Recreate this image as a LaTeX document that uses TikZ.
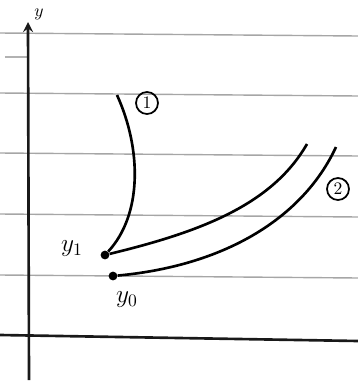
\documentclass[tikz,border=0pt]{standalone}
\usepackage{tikz}
\usetikzlibrary{arrows, positioning}

\begin{document}
\begin{tikzpicture}[
    x=0.02cm, y=-0.02cm,
    rule/.style={draw=black!35, line width=0.8pt},
    axis/.style={draw=black!90, line width=1.5pt},
    branch/.style={draw=black, line width=1.5pt},
    dot/.style={circle, fill=black, inner sep=0pt, minimum size=5pt},
    tag/.style={circle, draw=black, line width=1pt, inner sep=0pt, minimum size=0.44cm, font=\normalsize},
    lbl/.style={font=\Large}
]
\useasboundingbox (0,0) rectangle (358,383);
% ruled paper
\foreach \yy in {33,93,153,214,275}
    \draw[rule] (0,\yy) -- (358,\yy+3);
\draw[draw=black!30, line width=1.2pt] (5,57) -- (28,57);

% axes
\coordinate (xl) at (0,335);
\coordinate (xr) at (358,341);
\coordinate (yb) at (29,380);
\coordinate (yt) at (28,22);
\draw[axis] (xl) -- (xr);
\draw[axis, ->, >=stealth] (yb) -- (yt);
\node[font=\normalsize] (ylab) at (39,14) {$y$};

% points
\node[dot] (y1) at (105,255) {};
\node[dot] (y0) at (113,276) {};
\node[lbl] (y1lab) at (72,249) {$y_1$};
\node[lbl] (y0lab) at (127,300) {$y_0$};

% curve ends
\coordinate (c1) at (117,95);
\coordinate (c2a) at (307,144);
\coordinate (c2b) at (336,147);

\draw[branch] (c1) .. controls (142,150) and (142,215) .. (y1);
\draw[branch] (y1) .. controls (200,232) and (272,205) .. (c2a);
\draw[branch] (y0) .. controls (222,266) and (302,220) .. (c2b);

% curve tags
\node[tag] (t1) at (147,103) {1};
\node[tag] (t2) at (338,189) {2};
\end{tikzpicture}
\end{document}
